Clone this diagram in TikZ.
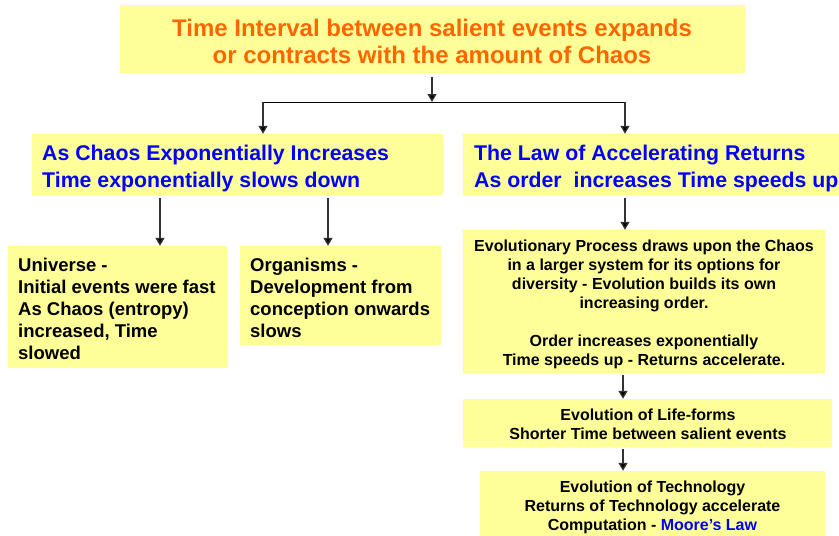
\documentclass[tikz,border=0pt]{standalone}
\usepackage{fontspec}
\setmainfont{Liberation Sans}
\usetikzlibrary{arrows.meta,calc}
\definecolor{boxyellow}{HTML}{FFFF99}
\definecolor{titleorange}{HTML}{FF6600}
\definecolor{headblue}{HTML}{0000FF}
\definecolor{shaft}{HTML}{333333}
\tikzset{
  x=1pt,y=-1pt,
  box/.style={fill=boxyellow,draw=none,inner sep=0pt},
  arr/.style={draw=shaft,line width=1.3pt,-{Triangle[length=8pt,width=9pt,fill=black]}},
  lin/.style={draw=black,line width=1pt},
}
\begin{document}
\begin{tikzpicture}
\useasboundingbox (0,0) rectangle (839,536);
% top
\node[box,minimum width=625pt,minimum height=68pt] (top) at (432.5,39) {};
\node[font=\bfseries\fontsize{24}{27}\selectfont,text=titleorange,align=center] (toptxt) at (432,41) {Time Interval between salient events expands\\or contracts with the amount of Chaos};
% middle
\node[box,minimum width=411pt,minimum height=61pt] (lmid) at (237.5,164.5) {};
\node[font=\bfseries\fontsize{21.3}{27}\selectfont,text=headblue,align=left,anchor=west,inner xsep=0pt] (lmidtxt) at (42,168) {As Chaos Exponentially Increases\\Time exponentially slows down};
\node[box,minimum width=376pt,minimum height=61pt] (rmid) at (651,164.5) {};
\node[font=\bfseries\fontsize{21.3}{27}\selectfont,text=headblue,align=left,anchor=west,inner xsep=0pt] (rmidtxt) at (474,168) {The Law of Accelerating Returns\\As order\ \ increases Time speeds up};
% left lower
\node[box,minimum width=219pt,minimum height=122pt] (univ) at (117.5,307) {};
\node[font=\bfseries\fontsize{18.5}{22}\selectfont,align=left,anchor=west,inner xsep=0pt] (univtxt) at (18,309) {Universe -\\Initial events were fast\\As Chaos (entropy)\\increased, Time\\slowed};
\node[box,minimum width=201pt,minimum height=99pt] (org) at (340.5,295.5) {};
\node[font=\bfseries\fontsize{18.5}{22}\selectfont,align=left,anchor=west,inner xsep=0pt] (orgtxt) at (250,298) {Organisms -\\Development from\\conception onwards\\slows};
% right lower
\node[box,minimum width=362pt,minimum height=143pt] (evo) at (644,301.5) {};
\node[font=\bfseries\fontsize{16}{19}\selectfont,align=center] (evotxt) at (644,304) {Evolutionary Process draws upon the Chaos\\in a larger system for its options for\\diversity - Evolution builds its own\\increasing order.\\[19pt]Order increases exponentially\\Time speeds up - Returns accelerate.};
\node[box,minimum width=369pt,minimum height=48pt] (life) at (647.5,423) {};
\node[font=\bfseries\fontsize{16}{19}\selectfont,align=center] (lifetxt) at (648,424) {Evolution of Life-forms\\Shorter Time between salient events};
\node[box,minimum width=345pt,minimum height=65pt] (tech) at (652.5,503.5) {};
\node[font=\bfseries\fontsize{16}{19}\selectfont,align=center] (techtxt) at (652.5,507) {Evolution of Technology\\Returns of Technology accelerate\\Computation - \textcolor{headblue}{Moore’s Law}};
% connectors
\coordinate (j) at (432,102);
\coordinate (jl) at (263,102);
\coordinate (jr) at (625,102);
\draw[arr] (432,77) -- (j);
\draw[lin] (jl) -- (jr);
\draw[arr] (jl) -- (jl |- lmid.north);
\draw[arr] (jr) -- (jr |- rmid.north);
\coordinate (a1) at (160,198);
\coordinate (a2) at (328,198);
\coordinate (a3) at (625,198);
\draw[arr] (a1) -- (a1 |- univ.north);
\draw[arr] (a2) -- (a2 |- org.north);
\draw[arr] (a3) -- (a3 |- evo.north);
\coordinate (a4) at (623,375);
\coordinate (a5) at (623,449);
\draw[arr] (a4) -- (a4 |- life.north);
\draw[arr] (a5) -- (a5 |- tech.north);
\end{tikzpicture}
\end{document}
